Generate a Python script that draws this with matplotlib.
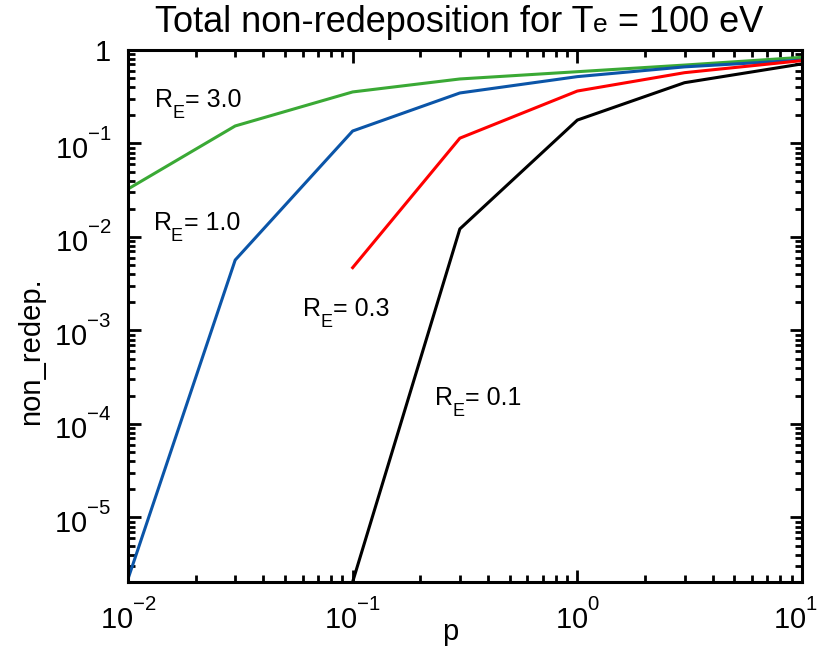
import matplotlib
matplotlib.use('Agg')
import matplotlib.pyplot as plt
import matplotlib._mathtext as mathtext_internals
from matplotlib.ticker import FixedLocator, FixedFormatter, LogLocator, NullFormatter
from matplotlib.offsetbox import AnchoredOffsetbox, HPacker, TextArea
from matplotlib.transforms import ScaledTranslation

plt.rcParams['font.family'] = ['Liberation Sans', 'DejaVu Sans']
plt.rcParams['mathtext.fontset'] = 'custom'
plt.rcParams['mathtext.rm'] = 'Liberation Sans'
plt.rcParams['mathtext.it'] = 'Liberation Sans'
# raise tick-label exponents a little higher, like the original
mathtext_internals.FontConstantsBase.sup1 = 1.15

p_values = [0.01, 0.03, 0.1, 0.3, 1.0, 3.0, 10.0]
re_30 = [0.0326, 0.154, 0.356, 0.49, 0.586, 0.69, 0.835]
re_10 = [2.2e-6, 0.00567, 0.136, 0.347, 0.519, 0.66, 0.78]
p_values_03 = [0.1, 0.3, 1.0, 3.0, 10.0]
re_03 = [0.0047, 0.114, 0.364, 0.572, 0.77]
p_values_01 = [0.1, 0.3, 1.0, 3.0, 10.0]
re_01 = [2.05e-6, 0.0122, 0.178, 0.447, 0.71]

y_ticks = [1e-5, 1e-4, 1e-3, 1e-2, 1e-1, 1]
y_tick_labels = [r'$10^{-5}$', r'$10^{-4}$', r'$10^{-3}$', r'$10^{-2}$', r'$10^{-1}$', '1']
x_ticks = [1e-2, 1e-1, 1, 10]
x_tick_labels = [r'$10^{-2}$', r'$10^{-1}$', r'$10^{0}$', r'$10^{1}$']

# curve annotations: value text, pixel position of "R" (left, baseline)
re_labels = ['3.0', '1.0', '0.3', '0.1']
re_label_pos = [(155, 107), (154, 230), (303, 316), (435, 405)]

W, H = 819, 655
fig = plt.figure(figsize=(W / 100, H / 100), dpi=100)
ax = fig.add_axes([128 / W, 1 - 582 / H, 674 / W, 532 / H])

lw = 2.2
ax.plot(p_values, re_30, color='#3aa935', lw=lw)
ax.plot(p_values, re_10, color='#0b55a8', lw=lw)
ax.plot(p_values_03, re_03, color='#ff0000', lw=lw)
ax.plot(p_values_01, re_01, color='black', lw=lw)

ax.set_xscale('log')
ax.set_yscale('log')
ax.set_xlim(1e-2, 10)
ax.set_ylim(2.04e-6, 1)

ax.xaxis.set_major_locator(FixedLocator(x_ticks))
ax.xaxis.set_major_formatter(FixedFormatter(x_tick_labels))
ax.yaxis.set_major_locator(FixedLocator(y_ticks))
ax.yaxis.set_major_formatter(FixedFormatter(y_tick_labels))
ax.xaxis.set_minor_locator(LogLocator(base=10, subs=range(2, 10), numticks=20))
ax.yaxis.set_minor_locator(LogLocator(base=10, subs=range(2, 10), numticks=20))
ax.xaxis.set_minor_formatter(NullFormatter())
ax.yaxis.set_minor_formatter(NullFormatter())

ax.tick_params(which='both', direction='in', top=True, right=True, width=2)
ax.tick_params(which='major', length=9, labelsize=21, pad=12)
ax.tick_params(which='minor', length=5)
for s in ax.spines.values():
    s.set_linewidth(2.2)

# last x tick label sits a bit left of its tick, as in the original
last = ax.get_xticklabels()[-1]
last.set_transform(last.get_transform() + ScaledTranslation(-0.07, 0, fig.dpi_scale_trans))

ax.set_xlabel('p', fontsize=21)
ax.xaxis.set_label_coords(0.478, -0.068)
ax.set_ylabel('non_redep.', fontsize=21)
ax.yaxis.set_label_coords(-0.123, 0.434)

# title with small "e" on the baseline
title_parts = HPacker(children=[
    TextArea('Total non-redeposition for T', textprops=dict(fontsize=26)),
    TextArea('e', textprops=dict(fontsize=19)),
    TextArea(' = 100 eV', textprops=dict(fontsize=26)),
], align='baseline', pad=0, sep=0)
title_box = AnchoredOffsetbox(loc='center', child=title_parts, pad=0, borderpad=0,
                              frameon=False, bbox_to_anchor=(459 / W, 1 - 23 / H),
                              bbox_transform=fig.transFigure)
fig.add_artist(title_box)

for val, (x0, y0) in zip(re_labels, re_label_pos):
    fig.text(x0 / W, 1 - y0 / H, 'R', fontsize=18, va='baseline', ha='left')
    fig.text((x0 + 17) / W, 1 - (y0 + 11) / H, 'E', fontsize=13, va='baseline', ha='left')
    fig.text((x0 + 30) / W, 1 - y0 / H, '= ' + val, fontsize=18, va='baseline', ha='left')

fig.savefig('out.png', dpi=100)
